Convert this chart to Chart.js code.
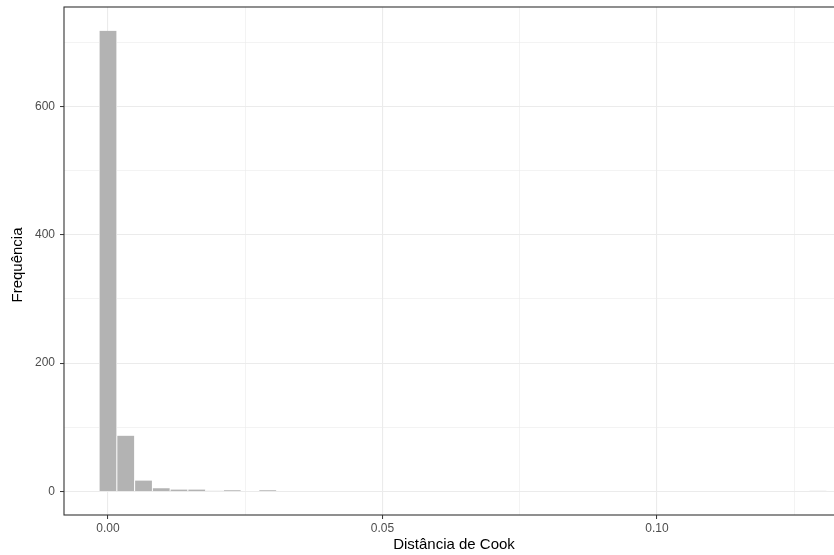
<!DOCTYPE html>
<html>
<head>
<meta charset="utf-8">
<script src="https://cdn.jsdelivr.net/npm/chart.js@4/dist/chart.umd.min.js"></script>
<style>
  html, body { margin: 0; padding: 0; background: #fff; overflow: hidden; width: 834px; height: 555px; }
  canvas { display: block; }
</style>
</head>
<body>
<canvas id="hist" width="880" height="555" style="width:880px;height:555px"></canvas>
<script>
// Histogram of Cook's distance: bin centres and counts of the non-empty bins
const binCenters = [0, 0.00323, 0.00647, 0.00970, 0.01293, 0.01617, 0.01940, 0.02263, 0.02910, 0.12932];
const binCounts  = [718, 87, 17, 5, 3, 3, 1, 2, 2, 1];

// Axis ticks (major ones carry labels, minor ones only grid lines)
const xTickValues = [0, 0.025, 0.05, 0.075, 0.10, 0.125];
const xTickLabels = { 0: '0.00', 0.05: '0.05', 0.1: '0.10' };
const yTickValues = [0, 100, 200, 300, 400, 500, 600, 700];
const yTickLabels = { 0: '0', 200: '200', 400: '400', 600: '600' };

const xTitle = 'Distância de Cook';
const yTitle = 'Frequência';

const FONT = '"Liberation Sans", Arial, Helvetica, sans-serif';

const points = binCenters.map((x, i) => ({ x: x, y: binCounts[i] }));

const isMajorX = v => Object.prototype.hasOwnProperty.call(xTickLabels, String(+v.toFixed(3)));
const isMajorY = v => Object.prototype.hasOwnProperty.call(yTickLabels, String(v));

// Panel border and axis titles
const decor = {
  id: 'decor',
  afterDatasetsDraw(chart) {
    const { ctx, chartArea: a } = chart;
    ctx.save();
    ctx.strokeStyle = '#333333';
    ctx.lineWidth = 1.1;
    ctx.strokeRect(a.left, a.top, a.right - a.left, a.bottom - a.top);
    ctx.restore();
  },
  afterDraw(chart) {
    const { ctx, chartArea: a } = chart;
    ctx.save();
    ctx.fillStyle = '#000';
    ctx.font = '15px ' + FONT;
    ctx.textAlign = 'center';
    ctx.textBaseline = 'middle';
    ctx.fillText(xTitle, 454, 545);
    ctx.translate(18, (a.top + a.bottom) / 2 + 4);
    ctx.rotate(-Math.PI / 2);
    ctx.fillText(yTitle, 0, 0);
    ctx.restore();
  }
};

new Chart(document.getElementById('hist'), {
  type: 'bar',
  data: {
    datasets: [{
      data: points,
      backgroundColor: '#B3B3B3',
      borderColor: '#FFFFFF',
      borderWidth: { left: 0.8, right: 0.8, top: 0, bottom: 0 },
      borderSkipped: false,
      barPercentage: 1,
      categoryPercentage: 1
    }]
  },
  plugins: [decor],
  options: {
    responsive: false,
    animation: false,
    layout: { padding: { left: 0, right: 16, top: 7, bottom: 0 } },
    plugins: { legend: { display: false }, tooltip: { enabled: false } },
    scales: {
      x: {
        type: 'linear',
        offset: false,
        min: -0.008015,
        max: 0.13771,
        afterBuildTicks: s => { s.ticks = xTickValues.map(v => ({ value: v })); },
        afterFit: s => { s.height = 40; s.paddingLeft = 0; s.paddingRight = 0; },
        border: { display: false },
        grid: {
          offset: false,
          color: '#EBEBEB',
          lineWidth: c => (c.tick && isMajorX(c.tick.value)) ? 1.1 : 0.6,
          tickColor: c => (c.tick && isMajorX(c.tick.value)) ? '#333333' : 'rgba(0,0,0,0)',
          tickLength: 4,
          tickWidth: 1
        },
        ticks: {
          autoSkip: false,
          maxRotation: 0,
          padding: 2,
          color: '#4D4D4D',
          font: { family: FONT, size: 12 },
          callback: v => xTickLabels[String(+(+v).toFixed(3))] || ''
        }
      },
      y: {
        type: 'linear',
        min: -36.6,
        max: 755,
        afterBuildTicks: s => { s.ticks = yTickValues.map(v => ({ value: v })); },
        afterFit: s => { s.width = 64; s.paddingTop = 0; s.paddingBottom = 0; },
        border: { display: false },
        grid: {
          color: '#EBEBEB',
          lineWidth: c => (c.tick && isMajorY(c.tick.value)) ? 1.1 : 0.6,
          tickColor: c => (c.tick && isMajorY(c.tick.value)) ? '#333333' : 'rgba(0,0,0,0)',
          tickLength: 4,
          tickWidth: 1
        },
        ticks: {
          padding: 5,
          color: '#4D4D4D',
          font: { family: FONT, size: 12 },
          callback: v => yTickLabels[String(v)] || ''
        }
      }
    }
  }
});
</script>
</body>
</html>
